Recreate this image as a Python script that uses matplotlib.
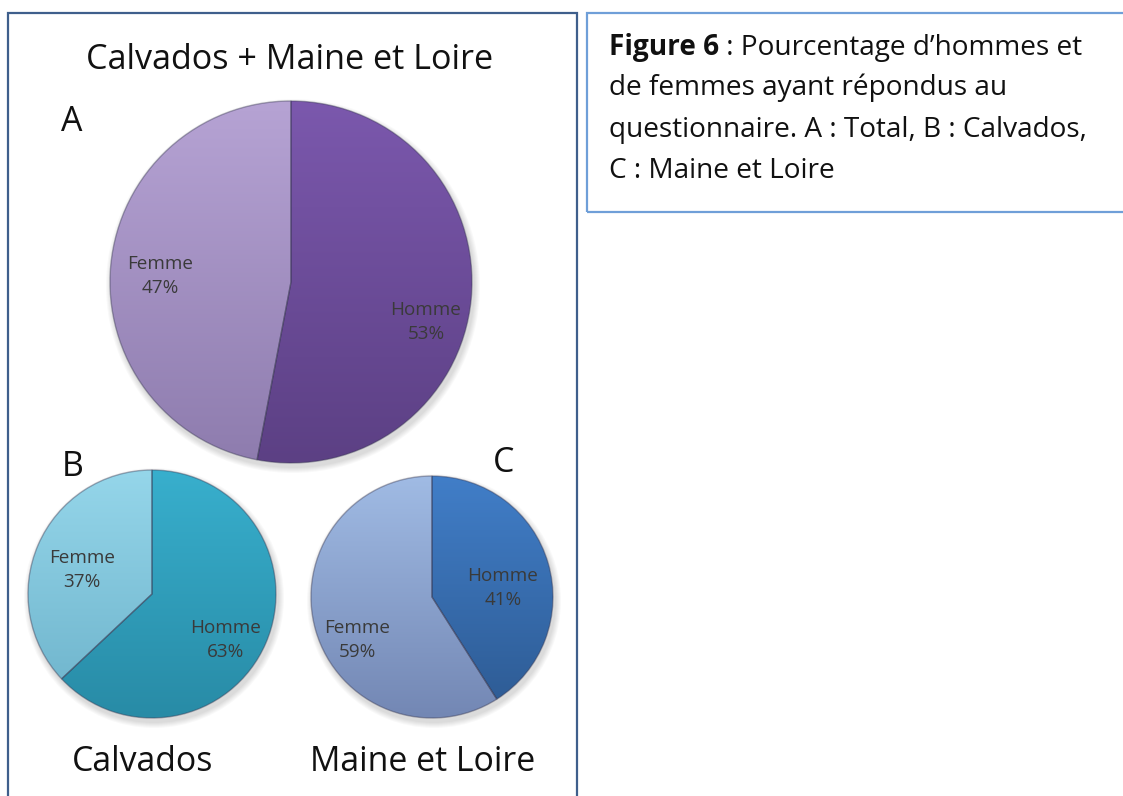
import numpy as np
import matplotlib.pyplot as plt
from matplotlib.colors import to_rgb
from matplotlib.patches import Rectangle

plt.rcParams['font.family'] = ['Open Sans', 'DejaVu Sans']

W, H = 1123, 796

# data
labels = ['Homme', 'Femme']
total = [53, 47]
calvados = [63, 37]
maine = [41, 59]
pie_titles = ['Calvados + Maine et Loire', 'Calvados', 'Maine et Loire']
panel_letters = ['A', 'B', 'C']
caption_bold = 'Figure 6'
caption_rest = ' : Pourcentage d\u2019hommes et'
caption_lines = ['de femmes ayant r\u00e9pondus au',
                 'questionnaire. A : Total, B : Calvados,',
                 'C : Maine et Loire']

# layout (pixels, y measured from the top)
pies = [
    dict(vals=total, c=(291, 282), r=181,
         cols=[('#7b58ad', '#5c4084'), ('#b6a3d4', '#8e7cae')],
         lab=[(426, 322), (160, 276)]),
    dict(vals=calvados, c=(152, 594), r=124,
         cols=[('#38afcd', '#288ba6'), ('#95d6ea', '#6cb2ca')],
         lab=[(226, 640), (82, 570)]),
    dict(vals=maine, c=(432, 597), r=121,
         cols=[('#417ec8', '#2d5a92'), ('#a0bbe4', '#7387b4')],
         lab=[(503, 588), (357, 640)]),
]

fig = plt.figure(figsize=(W / 100, H / 100), dpi=100)
ax = fig.add_axes([0, 0, 1, 1])


def yy(py):
    return H - py


def grad(c1, c2, n=256):
    a, b = np.array(to_rgb(c1)), np.array(to_rgb(c2))
    t = np.linspace(0, 1, n)[:, None]
    return (a * (1 - t) + b * t)[:, None, :]


for p in pies:
    cx, cy = p['c'][0], yy(p['c'][1])
    r = p['r']
    # soft shadow
    for k in range(6):
        sh = plt.Circle((cx + 2, cy - 4), r + 1 + k, color='#000000',
                        alpha=0.025, lw=0, zorder=0.2)
        ax.add_patch(sh)
    wedges, _ = ax.pie(p['vals'], center=(cx, cy), radius=r, startangle=90,
                       counterclock=False, frame=True,
                       wedgeprops=dict(edgecolor=(0.2, 0.2, 0.3, 0.4), lw=1.0))
    for w, (c1, c2) in zip(wedges, p['cols']):
        w.set_facecolor('none')
        im = ax.imshow(grad(c1, c2), extent=(cx - r, cx + r, cy - r, cy + r),
                       origin='upper', aspect='auto', zorder=0.8)
        im.set_clip_path(w)
    for (lx, ly), lab, v in zip(p['lab'], labels, p['vals']):
        ax.text(lx, yy(ly), f'{lab}\n{v}%', ha='center', va='center',
                fontsize=13.6, color='#3a3a3a', linespacing=1.4)

# frames
ax.add_patch(Rectangle((8, yy(800)), 569, 787, fill=False,
                       edgecolor='#3f5f8c', lw=1.6, zorder=5))
ax.add_patch(Rectangle((587, yy(212)), 560, 199, fill=False,
                       edgecolor='#6f9fd8', lw=1.6, zorder=5))

# titles
ax.text(290, yy(60), pie_titles[0], ha='center', va='center', fontsize=24.6,
        color='#111111')
ax.text(143, yy(762), pie_titles[1], ha='center', va='center', fontsize=24.4,
        color='#111111')
ax.text(423, yy(762), pie_titles[2], ha='center', va='center', fontsize=24.4,
        color='#111111')
for s, (lx, ly) in zip(panel_letters, [(72, 122), (73, 467), (504, 463)]):
    ax.text(lx, yy(ly), s, ha='center', va='center', fontsize=24.4,
            color='#111111')

# caption
t1 = ax.text(609, yy(47), caption_bold, ha='left', va='center',
             fontsize=20.2, fontweight='bold', color='#111111')
ax.annotate(caption_rest, xy=(1, 0), xycoords=t1, ha='left', va='bottom',
            fontsize=20.2, color='#111111')
for i, line in enumerate(caption_lines):
    ax.text(609, yy(88 + 41.5 * i), line, ha='left', va='center',
            fontsize=20.2, color='#111111')

ax.set_xlim(0, W)
ax.set_ylim(0, H)
ax.set_aspect('auto')
ax.axis('off')

fig.savefig('out.png', dpi=100)
